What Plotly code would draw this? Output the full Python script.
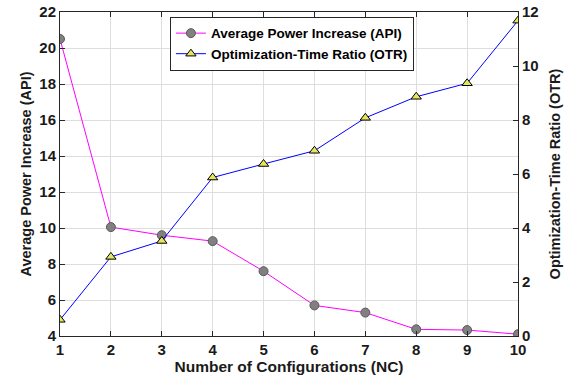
import plotly.graph_objects as go

nc = [1, 2, 3, 4, 5, 6, 7, 8, 9, 10]
api = [20.5, 10.05, 9.6, 9.27, 7.6, 5.7, 5.3, 4.37, 4.33, 4.1]
otr = [0.6, 2.93, 3.52, 5.87, 6.37, 6.86, 8.08, 8.86, 9.36, 11.68]

FONT = "Liberation Sans"
TXT = "#1a1a1a"

fig = go.Figure()
fig.add_trace(go.Scatter(
    x=nc, y=api, name="<b>Average Power Increase (API)</b>", mode="lines+markers",
    line=dict(color="#ff00ff", width=1),
    marker=dict(symbol="circle", size=9, color="#808080", line=dict(color="#5a5a5a", width=1)),
))
fig.add_trace(go.Scatter(
    x=nc, y=otr, name="<b>Optimization-Time Ratio (OTR)</b>", mode="lines+markers", yaxis="y2",
    line=dict(color="#0000ff", width=1),
    marker=dict(symbol="triangle-up", size=9, color="#e6e65a", line=dict(color="#000000", width=1)),
))

axcommon = dict(
    showline=True, linecolor="#262626", linewidth=1, ticks="inside", ticklen=5,
    tickcolor="#262626", tickfont=dict(family=FONT, size=15, color=TXT), zeroline=False,
    automargin=False,
)

fig.update_layout(
    width=572, height=378,
    margin=dict(l=60, r=54, t=12, b=42),
    paper_bgcolor="white", plot_bgcolor="white",
    font=dict(family=FONT, color=TXT),
    showlegend=True,
    legend=dict(
        x=0.24, y=0.985, xanchor="left", yanchor="top",
        bgcolor="white", bordercolor="#262626", borderwidth=1,
        font=dict(family=FONT, size=13.5, color="#000000"),
        tracegroupgap=0, itemwidth=30,
    ),
    xaxis=dict(
        range=[1, 10], tickvals=nc, ticktext=[f"<b>{v}</b>" for v in nc],
        mirror="ticks", showgrid=True, gridcolor="#dedede", gridwidth=1,
        title=dict(text="<b>Number of Configurations (NC)</b>", font=dict(family=FONT, size=15.5, color=TXT), standoff=4),
        **axcommon,
    ),
    yaxis=dict(
        range=[4, 22], tickvals=list(range(4, 23, 2)), ticktext=[f"<b>{v}</b>" for v in range(4, 23, 2)],
        showgrid=True, gridcolor="#dedede", gridwidth=1,
        title=dict(text="<b>Average Power Increase (API)</b>", font=dict(family=FONT, size=14.5, color=TXT), standoff=4),
        **axcommon,
    ),
    yaxis2=dict(
        range=[0, 12], tickvals=list(range(0, 13, 2)), ticktext=[f"<b>{v}</b>" for v in range(0, 13, 2)],
        overlaying="y", side="right", showgrid=False,
        title=dict(text="<b>Optimization-Time Ratio (OTR)</b>", font=dict(family=FONT, size=14.5, color=TXT), standoff=12),
        **axcommon,
    ),
)

fig.write_html("out.html", config={"displayModeBar": False},
               post_script="document.body.style.margin='0';")
